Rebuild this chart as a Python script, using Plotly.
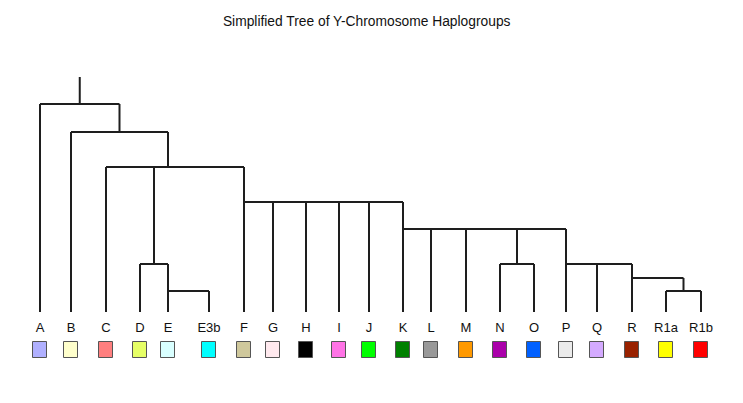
import plotly.graph_objects as go

# ---- data ----
leaf_names = ["A", "B", "C", "D", "E", "E3b", "F", "G", "H", "I", "J",
              "K", "L", "M", "N", "O", "P", "Q", "R", "R1a", "R1b"]
leaf_x = [40, 71, 106, 140, 168, 209, 244, 273, 306, 339, 369,
          403, 431, 466, 500, 534, 566, 597, 632, 666, 701]
leaf_colors = ["#b0b0ff", "#ffffcc", "#ff7f7f", "#e6ff66", "#d9ffff", "#00ffff",
               "#cfc89c", "#ffe9ee", "#000000", "#ff73e6", "#00ff00", "#008000",
               "#999999", "#ff9900", "#aa00aa", "#0060ff", "#ebebeb", "#d4aaff",
               "#992200", "#ffff00", "#ff0000"]

node_names = ["root", "BT", "CT", "DE", "ET", "FT", "KT", "NO", "PT", "RT", "R1"]
node_heights = [208, 180, 145, 48, 21, 110, 83, 48, 48, 34, 21]
node_children = [["A", "BT"], ["B", "CT"], ["C", "DE", "FT"], ["D", "ET"],
                 ["E", "E3b"], ["F", "G", "H", "I", "J", "KT"],
                 ["K", "L", "M", "NO", "PT"], ["N", "O"], ["P", "Q", "RT"],
                 ["R", "R1"], ["R1a", "R1b"]]
node_anchor = [None, None, None, None, "E", "F", "K", None, "P", "R", None]
root_stem_top = 235

title_text = "Simplified Tree of Y-Chromosome Haplogroups"

# ---- layout of the tree ----
xpos = dict(zip(leaf_names, leaf_x))
hpos = {n: 0 for n in leaf_names}
nodes = {n: (h, c, a) for n, h, c, a in zip(node_names, node_heights, node_children, node_anchor)}


def node_x(name):
    if name in xpos:
        return xpos[name]
    h, ch, anc = nodes[name]
    hpos[name] = h
    xs = [node_x(c) for c in ch]
    xpos[name] = xpos[anc] if anc else sum(xs) / len(xs)
    return xpos[name]


node_x("root")

lx, ly = [], []
for n in node_names:
    h, ch, _ = nodes[n]
    xs = [xpos[c] for c in ch]
    lx += [min(xs), max(xs), None]
    ly += [h, h, None]
    for c in ch:
        lx += [xpos[c], xpos[c], None]
        ly += [h, hpos[c], None]
lx += [xpos["root"], xpos["root"], None]
ly += [hpos["root"], root_stem_top, None]

fig = go.Figure()
fig.add_trace(go.Scatter(x=lx, y=ly, mode="lines",
                         line=dict(color="#1e1e1e", width=2),
                         hoverinfo="skip", showlegend=False))
fig.add_trace(go.Scatter(x=leaf_x, y=[-16.5] * len(leaf_x), mode="text",
                         text=leaf_names, textposition="middle center",
                         textfont=dict(family="Liberation Sans, Arial", size=13, color="#111111"),
                         hoverinfo="skip", showlegend=False))
fig.add_trace(go.Bar(x=leaf_x, y=[16] * len(leaf_x), base=[-45.7] * len(leaf_x),
                     width=[13.5] * len(leaf_x),
                     marker=dict(color=leaf_colors, line=dict(color="#555555", width=1)),
                     hoverinfo="skip", showlegend=False))

W, H, OFF = 735, 395, 8
fig.update_layout(
    width=W, height=H, autosize=False,
    margin=dict(l=0, r=0, t=0, b=0),
    paper_bgcolor="white", plot_bgcolor="white",
    title=dict(text=title_text, x=(366.7 - OFF) / W, xanchor="center",
               y=1 - (21 - OFF) / H, yanchor="middle", yref="container", xref="paper",
               font=dict(family="Liberation Sans, Arial", size=13.8, color="#111111")),
    xaxis=dict(range=[OFF, OFF + W], visible=False, fixedrange=True),
    yaxis=dict(range=[312 - OFF - H, 312 - OFF], visible=False, fixedrange=True),
    bargap=0,
)

fig.write_html("out.html", config={"displayModeBar": False})
